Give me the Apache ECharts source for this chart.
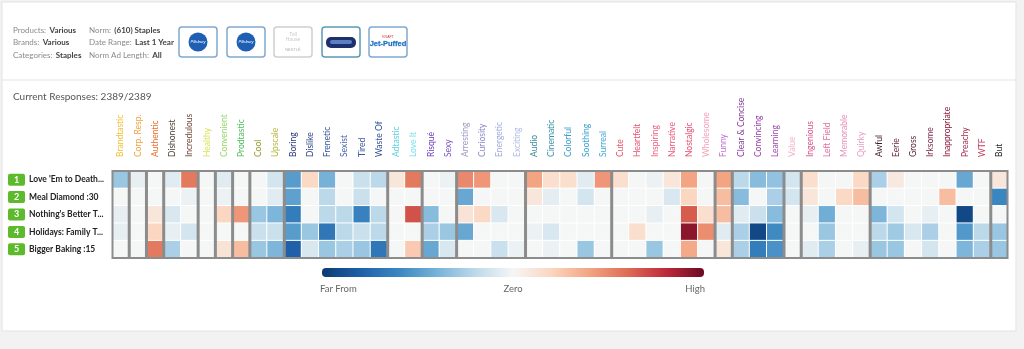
<!DOCTYPE html>
<html>
<head>
<meta charset="utf-8">
<script src="https://cdn.jsdelivr.net/npm/echarts@6/dist/echarts.min.js"></script>
<style>
  html, body { margin: 0; padding: 0; background: #f2f2f2; }
  #chart { width: 1024px; height: 349px; }
</style>
</head>
<body>
<div id="chart"></div>
<script>
// Emotional response attributes, left to right
const attributes = [
  'Brandtastic', 'Corp. Resp.', 'Authentic', 'Dishonest', 'Incredulous', 'Healthy',
  'Convenient', 'Prodtastic', 'Cool', 'Upscale', 'Boring', 'Dislike', 'Frenetic',
  'Sexist', 'Tired', 'Waste Of', 'Adtastic', 'Love It', 'Risqué', 'Sexy', 'Arresting',
  'Curiosity', 'Energetic', 'Exciting', 'Audio', 'Cinematic', 'Colorful', 'Soothing',
  'Surreal', 'Cute', 'Heartfelt', 'Inspiring', 'Narrative', 'Nostalgic', 'Wholesome',
  'Funny', 'Clear & Concise', 'Convincing', 'Learning', 'Value', 'Ingenious',
  'Left Field', 'Memorable', 'Quirky', 'Awful', 'Eerie', 'Gross', 'Irksome',
  'Inappropriate', 'Preachy', 'WTF', 'But'
];

// Number of consecutive attributes in each framed group
const groupSizes = [1, 1, 1, 2, 1, 1, 1, 2, 6, 2, 2, 4, 5, 6, 1, 3, 1, 4, 7, 1];

// Ads (rows)
const adNames = [
  "Love 'Em to Death...",
  'Meal Diamond :30',
  "Nothing's Better T...",
  'Holidays: Family T...',
  'Bigger Baking :15'
];

// Scores versus norm: -1 = far from, 0 = zero, +1 = high
const adLoveEm = [-0.3, -0.05, 0, -0.07, 0.55, 0, -0.07, 0, 0, -0.12, -0.5, 0.18, -0.4, 0, -0.15, -0.2, 0.1, 0.55, 0, -0.03, 0.5, 0.45, 0, 0, 0.4, 0.15, 0.15, -0.07, 0.45, 0.15, 0, -0.03, 0.1, 0.4, 0, 0.4, -0.2, -0.35, -0.32, -0.12, 0.15, 0, 0, 0.18, -0.25, 0.08, 0, 0, 0, -0.45, 0, 0.1];
const adMealDiamond = [0, 0, 0, 0, -0.03, 0, -0.03, 0, 0, -0.07, -0.48, 0, -0.2, 0, -0.15, 0, 0, 0, 0, 0, -0.45, 0, 0, 0, 0.1, -0.06, 0, -0.12, 0, 0, 0, 0, -0.1, 0.2, 0, 0.3, -0.35, 0, -0.25, -0.12, 0.1, 0, 0.18, 0.3, 0, 0, 0, 0, 0.3, 0, 0, -0.6];
const adNothingsBetter = [-0.05, 0, 0.1, -0.1, 0, 0, 0.2, 0.45, -0.3, -0.38, -0.65, 0, -0.2, -0.2, -0.62, -0.2, 0, 0.68, -0.35, 0, 0.12, 0.18, -0.1, 0, 0, 0, 0, 0, 0, 0, 0, -0.05, 0, 0.65, 0.15, 0.3, -0.07, -0.15, -0.35, 0, -0.05, -0.42, 0, 0, -0.38, -0.12, 0, -0.05, 0, -0.93, 0, 0];
const adHolidays = [-0.05, 0, 0.2, -0.05, -0.12, 0, 0, 0, -0.15, -0.15, -0.5, -0.3, -0.68, -0.2, -0.15, -0.2, 0, 0, -0.25, -0.3, -0.45, 0, 0, 0, -0.03, -0.1, 0, 0, 0, 0, 0.15, 0, 0, 0.92, 0.48, -0.07, -0.25, -0.93, -0.58, 0, 0, -0.3, 0, 0, -0.2, -0.28, -0.1, -0.25, 0, -0.52, -0.2, -0.3];
const adBiggerBaking = [0, 0, 0.55, -0.25, 0, 0, 0.12, 0.3, -0.3, -0.38, -0.8, -0.1, -0.3, -0.25, -0.3, -0.68, 0, 0.25, -0.45, -0.1, 0, 0, -0.15, -0.03, 0, -0.03, 0, -0.3, 0, 0, 0, -0.3, 0, 0.38, 0, 0.1, -0.25, -0.65, -0.55, 0, -0.07, -0.25, 0, -0.05, -0.3, -0.3, 0, -0.12, 0, -0.38, -0.25, -0.3];
const adScores = [adLoveEm, adMealDiamond, adNothingsBetter, adHolidays, adBiggerBaking];

// Legend tick labels
const legendTicks = ['Far From', 'Zero', 'High'];

// Header filter summary
const headerLeft = [['Products:', 'Various'], ['Brands:', 'Various'], ['Categories:', 'Staples']];
const headerRight = [['Norm:', '(610) Staples'], ['Date Range:', 'Last 1 Year'], ['Norm Ad Length:', 'All']];
const responsesText = 'Current Responses: 2389/2389';

// Styling
const labelColors = [
  '#f2bf2f', '#f0a23c', '#ec6a2c', '#4f4034', '#6e4637', '#d9e35c',
  '#98d56a', '#4dbd5c', '#97962c', '#b6b63e', '#26357a', '#2d468a', '#36569a',
  '#4762a8', '#3d57a0', '#334c96', '#5bd0e2', '#7fe0ee', '#6a3ab2', '#7b51c0', '#9a9ac0',
  '#8a8ac8', '#a2aadb', '#b3bbe3', '#3a8a9a', '#3a91aa', '#3a9bc9', '#3aa1d1',
  '#41a9d9', '#e6506a', '#ec5070', '#f06080', '#e95a78', '#e54f6f', '#f3a2ba',
  '#c06fd7', '#873999', '#9840a7', '#a048b0', '#f3b2c9', '#d6508b',
  '#e070a0', '#e78fb8', '#e7a0c1', '#3a1a2a', '#6a2a40', '#5a2a3a', '#7a2a4a',
  '#8a1a3a', '#a03050', '#c04060', '#222222'
];
const palette = ['#0b3b73', '#1f60a8', '#3a86c0', '#76b2d8', '#bcd9ea', '#f5f6f6',
                 '#fbd6c0', '#f3a482', '#de6c55', '#bd2a3a', '#6a0a23'];
const FONT = 'Lato, "Open Sans", sans-serif';

const heatData = [];
adScores.forEach((row, r) => row.forEach((v, c) => heatData.push([c, r, v])));

const chart = echarts.init(document.getElementById('chart'), null, { renderer: 'canvas' });

chart.setOption({
  backgroundColor: 'transparent',
  animation: false,
  textStyle: { fontFamily: FONT },
  grid: { left: 112, right: 16, top: 171, height: 87, containLabel: false },
  xAxis: {
    type: 'category',
    data: attributes,
    position: 'top',
    axisLine: { show: false },
    axisTick: { show: false },
    splitLine: { show: false },
    axisLabel: {
      rotate: -90,
      interval: 0,
      margin: 14,
      fontSize: 8.5,
      fontFamily: FONT,
      color: (value, index) => labelColors[index]
    }
  },
  yAxis: {
    type: 'category',
    data: adNames,
    inverse: true,
    axisLine: { show: false },
    axisTick: { show: false },
    splitLine: { show: false },
    axisLabel: {
      align: 'left',
      margin: 104,
      formatter: (value, index) => '{n|' + (index + 1) + '}{t|' + value + '}',
      rich: {
        n: { backgroundColor: '#5cba2c', color: '#fff', fontWeight: 'bold', fontSize: 9,
             width: 17, height: 12, lineHeight: 12, align: 'center', borderRadius: 2, fontFamily: FONT },
        t: { color: '#222', fontWeight: 'bold', fontSize: 8.5, padding: [0, 0, 0, 4], fontFamily: FONT }
      }
    }
  },
  visualMap: {
    show: false,
    type: 'continuous',
    min: -1,
    max: 1,
    dimension: 2,
    inRange: { color: palette }
  },
  series: [{
    type: 'heatmap',
    data: heatData,
    itemStyle: { borderColor: '#ffffff', borderWidth: 1 },
    emphasis: { disabled: true }
  }]
});

// Decorations: panel, header, logos, legend, and group frames
const g = [];
g.push({ type: 'rect', z: -10, shape: { x: 2, y: 2, width: 1014, height: 329 },
         style: { fill: '#ffffff', stroke: '#e3e3e3', lineWidth: 1 } });
g.push({ type: 'line', z: -9, shape: { x1: 2, y1: 80, x2: 1016, y2: 80 },
         style: { stroke: '#e3e3e3', lineWidth: 1 } });

const richHead = {
  l: { fill: '#8a8a8a', fontSize: 8, fontFamily: FONT },
  v: { fill: '#444', fontSize: 8, fontWeight: 'bold', fontFamily: FONT }
};
const rowY = [30, 42.5, 55];
headerLeft.forEach((p, i) => g.push({ type: 'text', x: 13, y: rowY[i],
  style: { text: '{l|' + p[0] + '} {v|' + p[1] + '}', rich: richHead, verticalAlign: 'middle' } }));
headerRight.forEach((p, i) => g.push({ type: 'text', x: 89, y: rowY[i],
  style: { text: '{l|' + p[0] + '} {v|' + p[1] + '}', rich: richHead, verticalAlign: 'middle' } }));

// Brand logo tiles
const tileX = [179, 227, 274, 322, 369];
const tileStroke = ['#7fa9cf', '#7fa9cf', '#cfcfcf', '#5c9bb5', '#7fa9cf'];
tileX.forEach((x, i) => {
  g.push({ type: 'rect', x: x, y: 27, shape: { width: 38, height: 30, r: 3 },
           style: { fill: '#fff', stroke: tileStroke[i], lineWidth: 1.5 } });
});
[0, 1].forEach(i => {
  g.push({ type: 'circle', shape: { cx: tileX[i] + 19, cy: 42, r: 9.5 }, style: { fill: '#1e5fb4' } });
  g.push({ type: 'text', x: tileX[i] + 19, y: 42,
           style: { text: 'Pillsbury', fill: '#fff', fontSize: 4, fontStyle: 'italic', align: 'center', verticalAlign: 'middle' } });
});
g.push({ type: 'text', x: tileX[2] + 19, y: 37,
         style: { text: 'Toll\nHouse', fill: '#c8c8c8', fontSize: 5, lineHeight: 5, align: 'center', verticalAlign: 'middle' } });
g.push({ type: 'text', x: tileX[2] + 19, y: 50,
         style: { text: 'NESTLÉ', fill: '#b0b0b0', fontSize: 4, align: 'center', verticalAlign: 'middle' } });
g.push({ type: 'rect', shape: { x: tileX[3] + 4, y: 37, width: 30, height: 11, r: 5 },
         style: { fill: '#1d2f6f' } });
g.push({ type: 'rect', shape: { x: tileX[3] + 8, y: 40, width: 22, height: 4, r: 2 },
         style: { fill: '#5c7fc0' } });
g.push({ type: 'text', x: tileX[4] + 19, y: 37,
         style: { text: 'KRAFT', fill: '#d03a3a', fontSize: 3.5, align: 'center', verticalAlign: 'middle' } });
g.push({ type: 'text', x: tileX[4] + 19, y: 44,
         style: { text: 'Jet-Puffed', fill: '#1f6cc0', fontSize: 7.5, fontWeight: 'bold', align: 'center',
                  verticalAlign: 'middle', stroke: '#9cc8ee', lineWidth: 0.5 } });

g.push({ type: 'text', x: 13, y: 97,
         style: { text: responsesText, fill: '#555', fontSize: 10, fontFamily: FONT, verticalAlign: 'middle' } });

// Color legend
const stops = palette.map((c, i) => ({ offset: i / (palette.length - 1), color: c }));
g.push({ type: 'rect', shape: { x: 322, y: 268, width: 382, height: 9, r: 4 },
         style: { fill: new echarts.graphic.LinearGradient(0, 0, 1, 0, stops) } });
const legendX = [320, 513, 705];
const legendAlign = ['left', 'center', 'right'];
legendTicks.forEach((t, i) => g.push({ type: 'text', x: legendX[i], y: 289,
  style: { text: t, fill: '#666', fontSize: 9.5, fontFamily: FONT, align: legendAlign[i], verticalAlign: 'middle' } }));

// Group frames, positioned from the axis scales
const cellX0 = chart.convertToPixel({ xAxisIndex: 0 }, 0);
const cellX1 = chart.convertToPixel({ xAxisIndex: 0 }, 1);
const bandW = cellX1 - cellX0;
const cellY0 = chart.convertToPixel({ yAxisIndex: 0 }, 0);
const cellY1 = chart.convertToPixel({ yAxisIndex: 0 }, 1);
const bandH = cellY1 - cellY0;
const frameTop = cellY0 - bandH / 2;
const frameBottom = chart.convertToPixel({ yAxisIndex: 0 }, adNames.length - 1) + bandH / 2;
let startIdx = 0;
groupSizes.forEach(n => {
  const left = chart.convertToPixel({ xAxisIndex: 0 }, startIdx) - bandW / 2;
  const right = chart.convertToPixel({ xAxisIndex: 0 }, startIdx + n - 1) + bandW / 2;
  g.push({ type: 'rect', z: 100,
           shape: { x: left + 0.5, y: frameTop, width: right - left - 1, height: frameBottom - frameTop },
           style: { fill: 'none', stroke: '#8c8c8c', lineWidth: 2 } });
  startIdx += n;
});

chart.setOption({ graphic: g });
</script>
</body>
</html>
